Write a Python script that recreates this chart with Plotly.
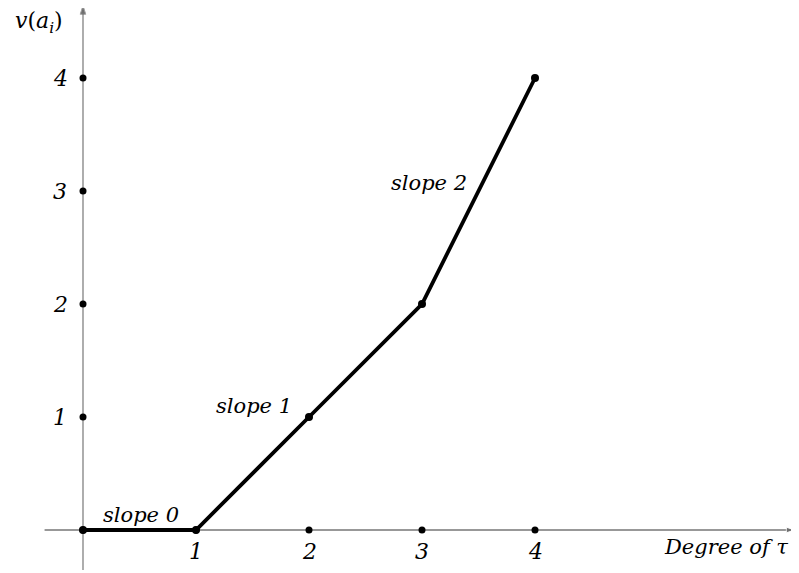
import plotly.graph_objects as go

# Data
degree = [0, 1, 2, 3, 4]
valuation = [0, 0, 1, 2, 4]
x_ticks = [0, 1, 2, 3, 4]
x_tick_labels = ["1", "2", "3", "4"]
y_ticks = [1, 2, 3, 4]
y_tick_labels = ["1", "2", "3", "4"]
slope_labels = ["slope 0", "slope 1", "slope 2"]
slope_pos_x = [0.51, 1.51, 3.06]
slope_pos_y = [0.13, 1.1, 3.07]

# browser body has an 8px margin: figure is placed at (8, 8)
W, H = 791, 565
PX = 113.0
ox, oy = 83 - 8, 530 - 8
xr = [-ox / PX, (W - ox) / PX]
yr = [-(H - oy) / PX, oy / PX]

FONT = "DejaVu Serif"

fig = go.Figure()

# axes with arrow tips
fig.add_trace(go.Scatter(x=[-0.34, 6.30], y=[0, 0], mode="lines+markers",
                         line=dict(color="#333333", width=1.2),
                         marker=dict(symbol=["circle", "arrow"], size=[0, 9],
                                     angleref="previous", color="#333333"),
                         hoverinfo="skip"))
fig.add_trace(go.Scatter(x=[0, 0], y=[-0.355, 4.64], mode="lines+markers",
                         line=dict(color="#777777", width=1.2),
                         marker=dict(symbol=["circle", "arrow"], size=[0, 9],
                                     angleref="previous", color="#333333"),
                         hoverinfo="skip"))

fig.add_trace(go.Scatter(x=x_ticks, y=[0] * len(x_ticks), mode="markers",
                         marker=dict(color="black", size=7), hoverinfo="skip"))
fig.add_trace(go.Scatter(x=[0] * len(y_ticks), y=y_ticks, mode="markers",
                         marker=dict(color="black", size=7), hoverinfo="skip"))
fig.add_trace(go.Scatter(x=degree, y=valuation, mode="lines+markers",
                         line=dict(color="black", width=3.8),
                         marker=dict(color="black", size=8), hoverinfo="skip"))

ann = []
for xv, lab in zip(x_ticks[1:], x_tick_labels):
    ann.append(dict(x=xv, y=-0.19, xref="x", yref="y", text="<i>" + lab + "</i>",
                    showarrow=False, font=dict(family=FONT, size=22, color="black")))
for yv, lab in zip(y_ticks, y_tick_labels):
    ann.append(dict(x=-0.2, y=yv, xref="x", yref="y", text="<i>" + lab + "</i>",
                    showarrow=False, font=dict(family=FONT, size=22, color="black")))
for lab, sx, sy in zip(slope_labels, slope_pos_x, slope_pos_y):
    ann.append(dict(x=sx, y=sy, xref="x", yref="y", text="<i>" + lab + "</i>",
                    showarrow=False, font=dict(family=FONT, size=21, color="black")))

ann.append(dict(x=-0.39, y=4.49, xref="x", yref="y", text="<i>v</i>(<i>a<sub>i</sub></i>)",
                showarrow=False, font=dict(family=FONT, size=22, color="black")))
ann.append(dict(x=6.26, y=-0.15, xref="x", yref="y", text="<i>Degree of τ</i>",
                xanchor="right", showarrow=False,
                font=dict(family=FONT, size=21, color="black")))

fig.update_layout(
    width=W, height=H,
    margin=dict(l=0, r=0, t=0, b=0),
    paper_bgcolor="white", plot_bgcolor="white",
    showlegend=False,
    xaxis=dict(range=xr, visible=False, fixedrange=True),
    yaxis=dict(range=yr, visible=False, fixedrange=True),
    annotations=ann,
)

fig.write_html("out.html")
